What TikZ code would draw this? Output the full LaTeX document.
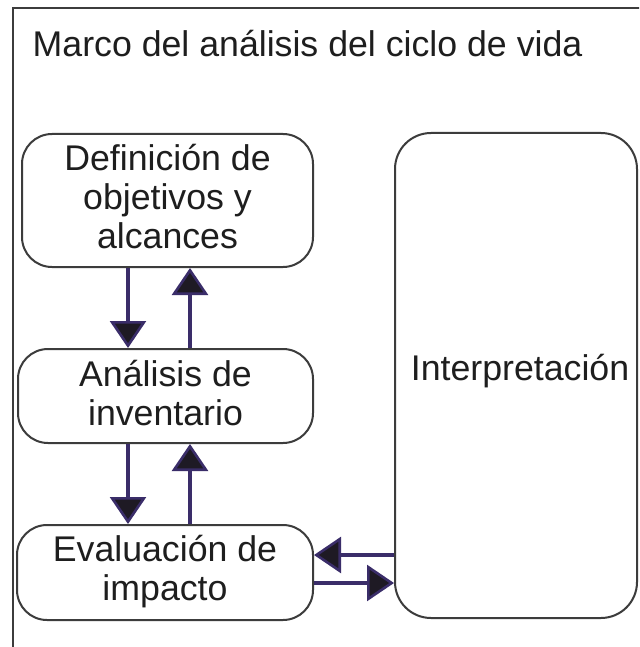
\documentclass[tikz,border=0pt]{standalone}
\usepackage{fontspec}
\setmainfont{Liberation Sans}
\usetikzlibrary{arrows.meta}
\definecolor{arrcol}{RGB}{58,45,105}
\definecolor{tipfill}{RGB}{30,26,36}
\definecolor{boxcol}{RGB}{60,60,60}
\definecolor{txtcol}{RGB}{30,30,30}
\tikzset{
  x=1pt, y=-1pt,
  stage/.style={draw=boxcol, line width=2pt, rounded corners=30pt, inner sep=0pt,
    align=center, text=txtcol, font=\fontsize{35.7}{39}\selectfont, text depth=8pt},
  arr/.style={draw=arrcol, line width=3.1pt,
    -{Triangle[width=36pt,length=27pt,line width=2.6pt,fill=tipfill]}},
  framebox/.style={draw=boxcol, line width=2.8pt},
  titletext/.style={text=txtcol, font=\fontsize{35.7}{39}\selectfont, inner sep=0pt, anchor=base west}
}
\begin{document}
\begin{tikzpicture}
\useasboundingbox (0,0) rectangle (639,647);
\clip (0,0) rectangle (639,647);
\fill[white] (0,0) rectangle (639,647);
\draw[framebox] (13,8) rectangle (680,690);
\node[titletext] (title) at (32.5,57) {Marco del análisis del ciclo de vida};
\node[stage, minimum width=291pt, minimum height=133pt, text height=104pt] (def) at (167.5,200.5)
  {Definición de\\objetivos y\\alcances};
\node[stage, minimum width=295pt, minimum height=94pt, text height=66pt] (anal) at (165.5,396)
  {Análisis de\\inventario};
\node[stage, minimum width=296pt, minimum height=95pt, text height=64pt] (eval) at (165,572.5)
  {Evaluación de\\impacto};
\node[stage, rounded corners=36pt, minimum width=242pt, minimum height=485pt, text height=25pt, text depth=16pt] (interp) at (516,375.5)
  {\hspace*{8pt}Interpretación};
\coordinate (xa) at (128,0);
\coordinate (xb) at (190,0);
\coordinate (ya) at (0,555);
\coordinate (yb) at (0,583);
\draw[arr] (xa |- def.south) -- (xa |- anal.north);
\draw[arr] (xb |- anal.north) -- (xb |- def.south);
\draw[arr] (xa |- anal.south) -- (xa |- eval.north);
\draw[arr] (xb |- eval.north) -- (xb |- anal.south);
\draw[arr] (interp.west |- ya) -- (eval.east |- ya);
\draw[arr] (eval.east |- yb) -- (interp.west |- yb);
\end{tikzpicture}
\end{document}
